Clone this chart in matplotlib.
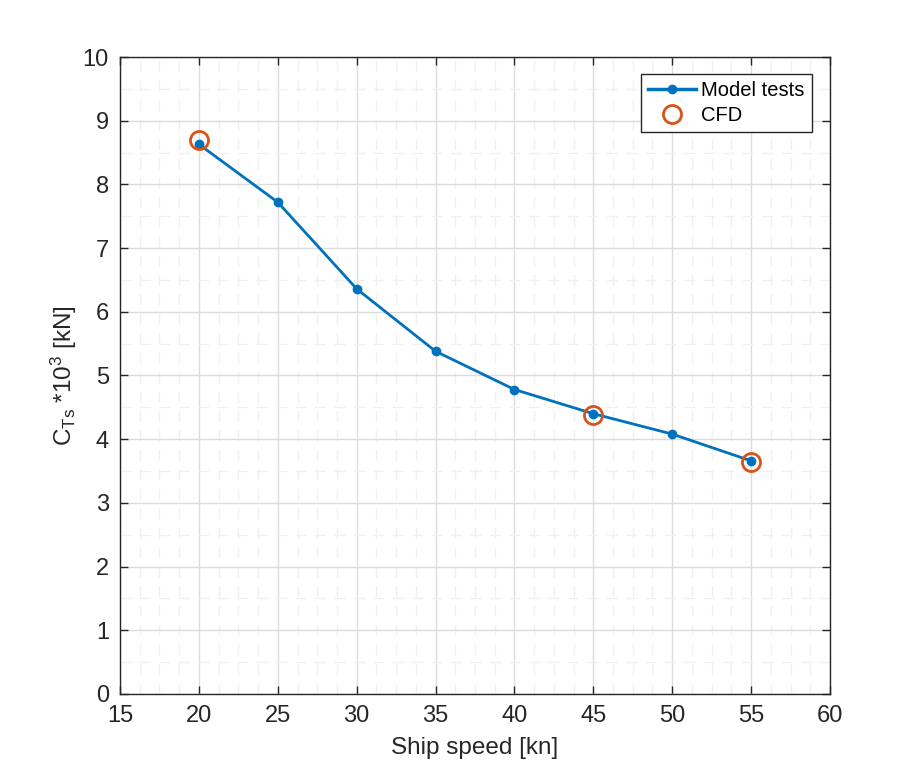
import numpy as np
import matplotlib
matplotlib.use("Agg")
import matplotlib.pyplot as plt
from matplotlib.ticker import MultipleLocator

plt.rcParams['font.family'] = ['Liberation Sans', 'DejaVu Sans']
plt.rcParams['mathtext.fontset'] = 'custom'
plt.rcParams['mathtext.rm'] = 'Liberation Sans'
plt.rcParams['mathtext.it'] = 'Liberation Sans'

# Model test results
speed = [20, 25, 30, 35, 40, 45, 50, 55]
ct_model = [8.63, 7.72, 6.36, 5.38, 4.78, 4.40, 4.08, 3.66]

# CFD results
speed_cfd = [20, 45, 55]
ct_cfd = [8.69, 4.38, 3.64]

dark = '#262626'

fig = plt.figure(figsize=(9.17, 7.8), dpi=100)
ax = fig.add_axes([0.1309, 0.1103, 0.7742, 0.8166])

ax.plot(speed, ct_model, color='#0072BD', lw=2.0, marker='o', ms=6,
        label='Model tests', zorder=3)
ax.plot(speed_cfd, ct_cfd, ls='none', marker='o', ms=13, mfc='none',
        mec='#D95319', mew=2.0, label='CFD', zorder=4)

ax.set_xlim(15, 60)
ax.set_ylim(0, 10)
ax.xaxis.set_major_locator(MultipleLocator(5))
ax.yaxis.set_major_locator(MultipleLocator(1))
ax.xaxis.set_minor_locator(MultipleLocator(1.25))
ax.yaxis.set_minor_locator(MultipleLocator(0.5))

ax.grid(True, which='major', color='#dcdcdc', lw=1.0)
ax.grid(True, which='minor', color='#f0f0f0', lw=1.0, ls=(0, (8, 6)))
ax.set_axisbelow(True)

ax.tick_params(which='major', direction='in', length=6, width=1, colors=dark,
               labelsize=17, top=True, right=True, pad=8)
ax.tick_params(which='minor', length=0)
for s in ax.spines.values():
    s.set_color(dark)
    s.set_linewidth(1.0)

ax.set_xlabel('Ship speed [kn]', fontsize=17.5, color=dark, labelpad=7)
ax.set_ylabel(r'C$_{\mathrm{Ts}}$ *10$^{3}$ [kN]', fontsize=17.5, color=dark, labelpad=3)

leg = ax.legend(loc='upper right', bbox_to_anchor=(0.974, 0.973), fontsize=14.5,
                frameon=True, fancybox=False, edgecolor=dark, framealpha=1,
                handlelength=2.4, handletextpad=0.25, borderpad=0.35,
                labelspacing=0.3, borderaxespad=0)
leg.get_frame().set_linewidth(1.0)
for h in leg.get_lines():
    h.set_linewidth(2.5)

fig.savefig('out.png', dpi=100, facecolor='white')
